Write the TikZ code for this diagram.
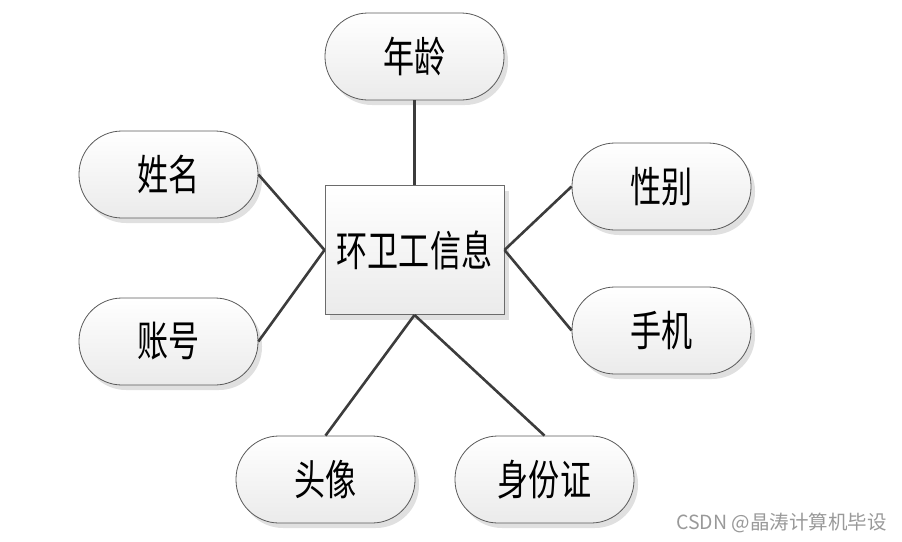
\documentclass[tikz,border=0pt]{standalone}
\usepackage{fontspec}
\newfontfamily\cjk[FakeStretch=0.74]{Noto Sans CJK SC}
\newfontfamily\wmfont{Noto Sans CJK SC}
\usetikzlibrary{shadows}
\definecolor{linkcol}{HTML}{3C3C3C}
\definecolor{bordercol}{HTML}{5A5A5A}
\tikzset{
  attr/.style={rectangle, rounded corners=43pt, minimum width=179pt, minimum height=87pt,
    draw=bordercol, line width=0.8pt, top color=white, bottom color=black!8,
    drop shadow={shadow xshift=4pt, shadow yshift=-5pt, fill=black!12, opacity=1},
    font=\cjk\fontsize{42}{44}\selectfont, inner sep=0pt},
  entity/.style={rectangle, minimum width=179pt, minimum height=129pt,
    draw=bordercol!90, line width=1pt, top color=white, bottom color=black!8,
    drop shadow={shadow xshift=5pt, shadow yshift=-5pt, fill=black!12, opacity=1},
    font=\cjk\fontsize{42}{44}\selectfont, inner sep=0pt},
  link/.style={draw=linkcol, line width=2.6pt}
}
\begin{document}
\begin{tikzpicture}[x=1pt,y=-1pt]
\useasboundingbox (0,0) rectangle (902,541);
\node[entity] (e) at (414.5,250) {环卫工信息};
\node[attr] (age) at (414.5,56.5) {年龄};
\node[attr] (name) at (168.5,174.5) {姓名};
\node[attr] (acct) at (168.5,341.5) {账号};
\node[attr] (sex) at (661.5,186.5) {性别};
\node[attr] (phone) at (661.5,330.5) {手机};
\node[attr] (avatar) at (325.5,479.5) {头像};
\node[attr] (idc) at (544.5,479.5) {身份证};
\draw[link] (age.south) -- (e.north);
\draw[link] (name.east) -- (e.west);
\draw[link] (acct.east) -- (e.west);
\draw[link] (sex.west) -- (e.east);
\draw[link] (phone.west) -- (e.east);
\draw[link] (avatar.north) -- (e.south);
\draw[link] (idc.north) -- (e.south);
\node[anchor=base east, text=black!40, font=\wmfont\fontsize{19.5}{21}\selectfont, inner sep=0pt] (wm) at (887,529) {CSDN @晶涛计算机毕设};
\end{tikzpicture}
\end{document}
